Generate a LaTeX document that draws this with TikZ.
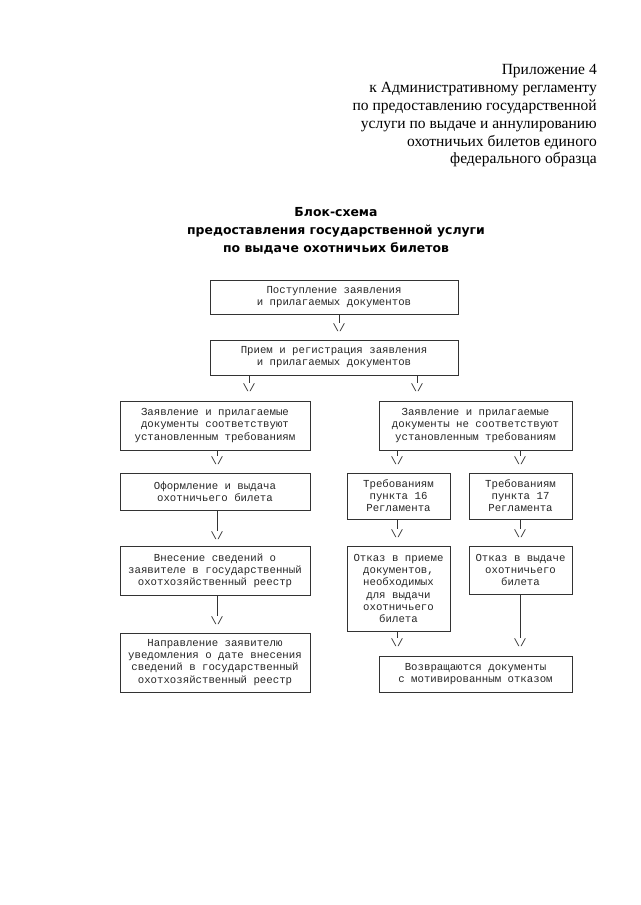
\documentclass[tikz,border=0pt]{standalone}
\usepackage{fontspec}
\setmainfont{Liberation Serif}
\newfontfamily\boxfont{Liberation Mono}
\newfontfamily\headfont{DejaVu Sans}
\usetikzlibrary{positioning}

\begin{document}
\begin{tikzpicture}[x=0.0328125cm, y=-0.0328125cm,
    boxsize/.style 2 args={minimum width=#1*0.0328125cm, minimum height=#2*0.0328125cm},
    stepbox/.style={draw=black!80, line width=0.6pt, align=center, inner sep=0pt,
        font=\boxfont\fontsize{10}{11.3}\selectfont, text=black!85},
    downmark/.style={inner sep=0.8pt, font=\boxfont\fontsize{10}{11.3}\selectfont, text=black!85},
    link/.style={draw=black!80, line width=0.6pt}]
    \useasboundingbox (0,0) rectangle (640,905);

    % Annex header and title
    \node[anchor=north east, align=right, inner sep=0pt, font=\fontsize{14.5}{16.6}\selectfont] (annex) at (597,64.5)
        {Приложение 4\\к Административному регламенту\\по предоставлению государственной\\услуги по выдаче и аннулированию\\охотничьих билетов единого\\федерального образца};
    \node[align=center, font=\headfont\bfseries\fontsize{11.6}{16.9}\selectfont] (title) at (336,231)
        {Блок-схема\\предоставления государственной услуги\\по выдаче охотничьих билетов};

    % Common part
    \node[stepbox, boxsize={248}{34}] (receipt) at (334,297) {Поступление заявления\\и прилагаемых документов};
    \node[stepbox, boxsize={248}{35}] (register) at (334,357.5) {Прием и регистрация заявления\\и прилагаемых документов};

    % Left branch
    \node[stepbox, boxsize={190}{49}] (conform) at (215,425.5) {Заявление и прилагаемые\\документы соответствуют\\установленным требованиям};
    \node[stepbox, boxsize={190}{37}] (issue) at (215,491.5) {Оформление и выдача\\охотничьего билета};
    \node[stepbox, boxsize={190}{49}] (record) at (215,570.5) {Внесение сведений о\\заявителе в государственный\\охотхозяйственный реестр};
    \node[stepbox, boxsize={190}{59}] (notify) at (215,662.5) {Направление заявителю\\уведомления о дате внесения\\сведений в государственный\\охотхозяйственный реестр};

    % Right branch
    \node[stepbox, boxsize={193}{49}] (nonconform) at (475.5,425.5) {Заявление и прилагаемые\\документы не соответствуют\\установленным требованиям};
    \node[stepbox, boxsize={103}{46}] (point16) at (398.5,496) {Требованиям\\пункта 16\\Регламента};
    \node[stepbox, boxsize={103}{46}] (point17) at (520.5,496) {Требованиям\\пункта 17\\Регламента};
    \node[stepbox, boxsize={103}{85}] (refuse16) at (398.5,588.5) {Отказ в приеме\\документов,\\необходимых\\для выдачи\\охотничьего\\билета};
    \node[stepbox, boxsize={103}{48}] (refuse17) at (520.5,570) {Отказ в выдаче\\охотничьего\\билета};
    \node[stepbox, boxsize={193}{36}] (giveback) at (475.5,674) {Возвращаются документы\\с мотивированным отказом};

    % Down marks
    \node[downmark] (m1) at (339,328) {\textbackslash/};
    \node[downmark] (m2) at (249,388) {\textbackslash/};
    \node[downmark] (m3) at (417,388) {\textbackslash/};
    \node[downmark] (m4) at (217,461) {\textbackslash/};
    \node[downmark] (m5) at (397,461) {\textbackslash/};
    \node[downmark] (m6) at (520,461) {\textbackslash/};
    \node[downmark] (m7) at (217,536) {\textbackslash/};
    \node[downmark] (m8) at (397,534) {\textbackslash/};
    \node[downmark] (m9) at (520,534) {\textbackslash/};
    \node[downmark] (m10) at (217,621) {\textbackslash/};
    \node[downmark] (m11) at (397,643) {\textbackslash/};
    \node[downmark] (m12) at (520,643) {\textbackslash/};

    % Connectors
    \draw[link] (receipt.south -| m1) -- (m1.north);
    \draw[link] (register.south -| m2) -- (m2.north);
    \draw[link] (register.south -| m3) -- (m3.north);
    \draw[link] (conform.south -| m4) -- (m4.north);
    \draw[link] (nonconform.south -| m5) -- (m5.north);
    \draw[link] (nonconform.south -| m6) -- (m6.north);
    \draw[link] (issue.south -| m7) -- (m7.north);
    \draw[link] (point16.south -| m8) -- (m8.north);
    \draw[link] (point17.south -| m9) -- (m9.north);
    \draw[link] (record.south -| m10) -- (m10.north);
    \draw[link] (refuse16.south -| m11) -- (m11.north);
    \draw[link] (refuse17.south -| m12) -- (m12.north);
\end{tikzpicture}
\end{document}
